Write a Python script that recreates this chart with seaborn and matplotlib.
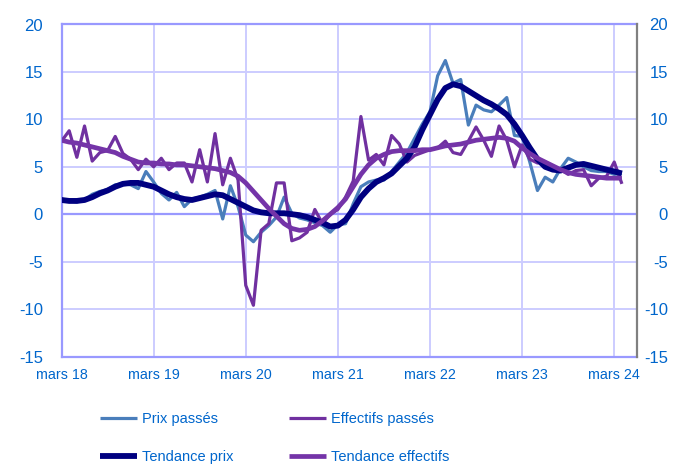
import numpy as np
import pandas as pd
import matplotlib
matplotlib.use("Agg")
import matplotlib.pyplot as plt
import seaborn as sns

# Monthly series, March 2018 -> April 2024
prix_passes = [
    1.6, 1.4, 1.3, 1.5, 2.1, 2.4, 2.6, 3.1, 3.2, 3.1, 2.7, 4.5,
    3.4, 2.2, 1.5, 2.3, 0.8, 1.6, 1.8, 2.1, 2.5, -0.5, 3.0, 0.8,
    -2.2, -2.9, -1.9, -1.2, -0.3, 1.8, 0.1, -0.4, -0.6, -0.9, -1.2, -1.9,
    -1.1, -1.0, 1.1, 2.9, 3.4, 3.6, 3.6, 4.5, 5.5, 6.5, 8.0, 9.5,
    10.8, 14.6, 16.2, 13.8, 14.2, 9.4, 11.5, 11.0, 10.8, 11.5, 12.3, 8.3,
    8.2, 5.5, 2.5, 3.9, 3.4, 4.8, 5.9, 5.5, 5.0, 4.6, 4.5, 4.5,
    4.2, 4.3,
]
effectifs_passes = [
    7.7, 8.8, 6.0, 9.3, 5.6, 6.5, 6.7, 8.2, 6.4, 5.8, 4.7, 5.8,
    5.0, 5.9, 4.7, 5.4, 5.4, 3.4, 6.8, 3.4, 8.5, 3.1, 5.9, 3.6,
    -7.5, -9.6, -1.7, -1.0, 3.3, 3.3, -2.8, -2.5, -1.9, 0.5, -1.0, 0.0,
    0.5, 1.8, 3.5, 10.3, 5.7, 6.3, 5.2, 8.3, 7.4, 5.5, 6.2, 6.5,
    6.8, 7.0, 7.7, 6.5, 6.3, 7.7, 9.2, 7.8, 6.1, 9.3, 7.8, 5.0,
    7.3, 5.8, 5.4, 5.5, 5.0, 4.7, 4.2, 4.6, 4.7, 3.0, 3.8, 4.0,
    5.5, 3.2,
]
tendance_prix = [
    1.5, 1.4, 1.4, 1.5, 1.8, 2.2, 2.5, 2.9, 3.2, 3.3, 3.3, 3.1,
    2.9, 2.5, 2.1, 1.8, 1.6, 1.5, 1.7, 1.9, 2.1, 2.0, 1.6, 1.2,
    0.8, 0.4, 0.2, 0.1, 0.1, 0.1, 0.0, -0.1, -0.3, -0.6, -0.9, -1.3,
    -1.2, -0.6, 0.5, 1.8, 2.7, 3.4, 3.8, 4.3, 5.1, 5.9, 7.1, 8.9,
    10.5, 12.1, 13.3, 13.7, 13.5, 13.0, 12.5, 12.0, 11.6, 11.1, 10.5, 9.5,
    8.3, 7.0, 5.8, 5.0, 4.7, 4.6, 4.9, 5.2, 5.3, 5.1, 4.9, 4.7,
    4.5, 4.3,
]
tendance_effectifs = [
    7.8, 7.6, 7.5, 7.3, 7.1, 6.9, 6.7, 6.5, 6.1, 5.8, 5.5, 5.4,
    5.4, 5.3, 5.3, 5.2, 5.2, 5.1, 5.0, 4.9, 4.8, 4.6, 4.4, 4.0,
    3.3, 2.4, 1.5, 0.6, -0.2, -1.0, -1.5, -1.7, -1.6, -1.3, -0.7, 0.0,
    0.7, 1.6, 2.9, 4.2, 5.2, 5.9, 6.3, 6.6, 6.7, 6.7, 6.7, 6.8,
    6.8, 7.0, 7.2, 7.3, 7.4, 7.6, 7.8, 7.9, 8.0, 8.1, 8.0, 7.7,
    7.0, 6.4, 5.9, 5.5, 5.1, 4.7, 4.4, 4.2, 4.1, 4.0, 3.9, 3.8,
    3.8, 3.8,
]
tick_labels = ["mars 18", "mars 19", "mars 20", "mars 21", "mars 22", "mars 23", "mars 24"]
tick_months = [0, 12, 24, 36, 48, 60, 72]
y_ticks = [-15, -10, -5, 0, 5, 10, 15, 20]

sns.set_theme(style="white")
plt.rcParams["font.family"] = ["Liberation Sans", "DejaVu Sans"]
plt.rcParams["axes.unicode_minus"] = False

TEXT = "#0066CC"
GRID = "#CCCCFF"
AXIS = "#9999FF"

df = pd.DataFrame({
    "mois": np.arange(len(prix_passes)),
    "Prix passés": prix_passes,
    "Effectifs passés": effectifs_passes,
    "Tendance prix": tendance_prix,
    "Tendance effectifs": tendance_effectifs,
})

W, H = 685, 465
fig = plt.figure(figsize=(W / 100, H / 100), dpi=100)
ax = fig.add_axes([61.5 / W, 1 - 356.5 / H, 575 / W, 332 / H])

styles = {
    "Prix passés": dict(color="#4A7EBB", lw=2.3),
    "Effectifs passés": dict(color="#7030A0", lw=2.3),
    "Tendance prix": dict(color="#000080", lw=4.2),
    "Tendance effectifs": dict(color="#7434A8", lw=3.4),
}
for i, (name, st) in enumerate(styles.items()):
    sns.lineplot(data=df, x="mois", y=name, ax=ax, label=name,
                 solid_joinstyle="round", solid_capstyle="butt",
                 zorder=3 + i, **st)

ax.set_xlim(0, 74.9)
ax.set_ylim(-15, 20)
ax.set_xticks(tick_months)
ax.set_xticklabels(tick_labels)
ax.set_yticks(y_ticks)
ax.set_xlabel("")
ax.set_ylabel("")
ax.grid(True, color=GRID, lw=1.4)
ax.set_axisbelow(True)
ax.axhline(0, color=AXIS, lw=1.6, zorder=2)

for side in ("left", "top", "bottom"):
    ax.spines[side].set_color(AXIS)
    ax.spines[side].set_linewidth(1.6)
ax.spines["right"].set_visible(False)

ax.tick_params(axis="y", length=0, pad=13.3, labelsize=12, labelcolor=TEXT)
ax.tick_params(axis="x", length=0, pad=8, labelsize=10.3, labelcolor=TEXT)

ax2 = ax.twinx()
ax2.set_ylim(-15, 20)
ax2.set_yticks(y_ticks)
for side in ("left", "top", "bottom"):
    ax2.spines[side].set_visible(False)
ax2.spines["right"].set_color("#808080")
ax2.spines["right"].set_linewidth(1.6)
ax2.tick_params(axis="y", length=0, pad=22.7, labelsize=12, labelcolor=TEXT)
for lab in ax2.get_yticklabels():
    lab.set_horizontalalignment("right")
ax2.grid(False)

handles, labels = ax.get_legend_handles_labels()
ax.get_legend().remove()
order = [0, 2, 1, 3]
leg = fig.legend([handles[i] for i in order], [labels[i] for i in order],
                 ncol=2, loc="upper left", bbox_to_anchor=(93 / W, 1 - 405 / H),
                 frameon=False, fontsize=10.5, borderpad=0, handlelength=2.55,
                 handletextpad=0.34, columnspacing=3.75, labelspacing=1.62)
for t in leg.get_texts():
    t.set_color(TEXT)

fig.savefig("out.png", dpi=100)
